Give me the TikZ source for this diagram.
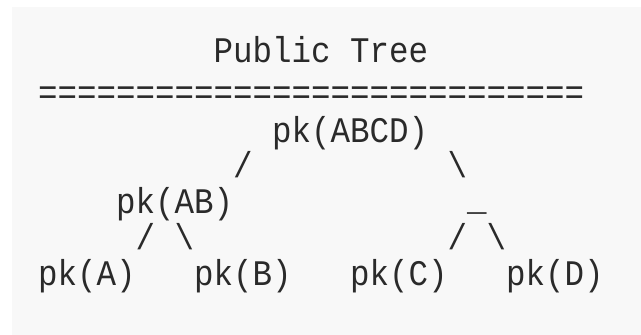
\documentclass[tikz,border=0pt]{standalone}
\usepackage{fontspec}
\setmonofont[FakeStretch=0.9028]{Liberation Mono}
\definecolor{bg}{HTML}{F8F8F8}
\definecolor{ink}{HTML}{2A2A2A}
\begin{document}
\begin{tikzpicture}[x=1pt,y=-1pt,
  txt/.style={font=\ttfamily\fontsize{36}{36}\selectfont, text=ink, inner sep=0pt, anchor=base west}]
\useasboundingbox (0,0) rectangle (641,335);
\fill[white] (0,0) rectangle (641,335);
\fill[bg] (12,7) rectangle (641,335);
% row baselines
\def\ra{62}\def\rb{104}\def\rc{142}\def\rd{177}\def\re{213}\def\rf{249}\def\rg{285}
\node[txt] (title) at (38+9*19.5,\ra) {Public Tree};
\node[txt] (rule) at (38,\rb) {============================};
\node[txt] (abcd) at (38+12*19.5,\rc) {pk(ABCD)};
\node[txt] (s1l) at (38+10*19.5,\rd) {/};
\node[txt] (s1r) at (38+21*19.5,\rd) {\textbackslash};
\node[txt] (ab) at (38+4*19.5,\re) {pk(AB)};
\node[txt] (cd) at (38+22*19.5,\re-3) {\_};
\node[txt] (s2a) at (38+5*19.5,\rf) {/};
\node[txt] (s2b) at (38+7*19.5,\rf) {\textbackslash};
\node[txt] (s2c) at (38+21*19.5,\rf) {/};
\node[txt] (s2d) at (38+23*19.5,\rf) {\textbackslash};
\node[txt] (a) at (38,\rg) {pk(A)};
\node[txt] (b) at (38+8*19.5,\rg) {pk(B)};
\node[txt] (c) at (38+16*19.5,\rg) {pk(C)};
\node[txt] (d) at (38+24*19.5,\rg) {pk(D)};
\end{tikzpicture}
\end{document}
